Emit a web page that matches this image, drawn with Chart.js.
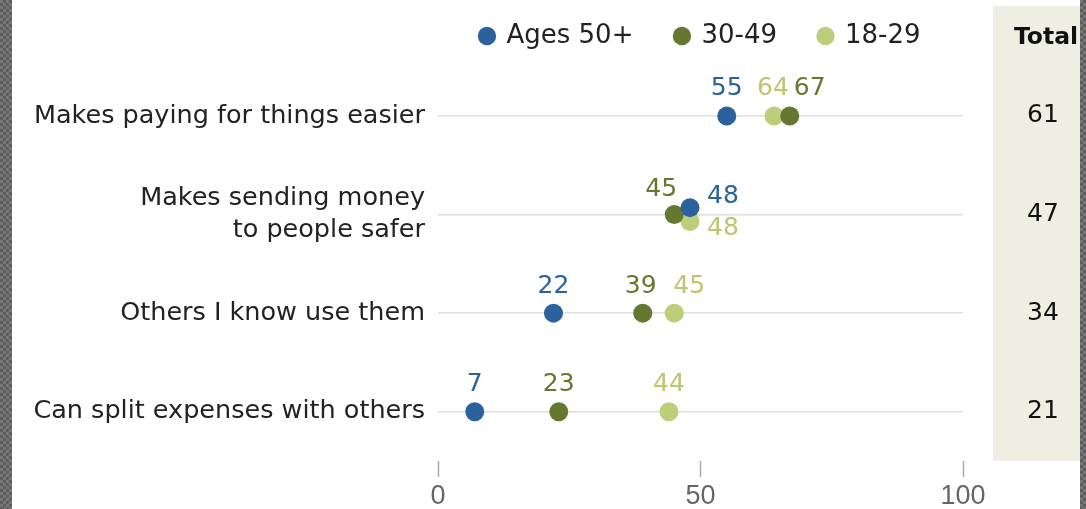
<!DOCTYPE html>
<html>
<head>
<meta charset="utf-8">
<script src="https://cdn.jsdelivr.net/npm/chart.js@4"></script>
<style>
html, body { margin: 0; padding: 0; background: #fff; }
</style>
</head>
<body>
<canvas id="reasonsChart" width="1086" height="509"></canvas>
<script>
//DATA
const reasons = [
    'Makes paying for things easier',
    ['Makes sending money', 'to people safer'],
    'Others I know use them',
    'Can split expenses with others'
];
const seriesNames = ['Ages 50+', '30-49', '18-29'];
const ages50 = [55, 48, 22, 7];
const ages30 = [67, 45, 39, 23];
const ages18 = [64, 48, 45, 44];
const totals = [61, 47, 34, 21];
const xTicks = [0, 50, 100];

//STYLE
const colors = ['#2b619c', '#66772f', '#bdce7b'];
const textColors = ['#2b619c', '#66772f', '#b6c970'];
const font = 'DejaVu Sans';
// small vertical nudge so overlapping dots stay visible (row 2)
const rowNudge = [
    [0, -0.07, 0, 0],
    [0, 0, 0, 0],
    [0, 0.07, 0, 0]
];
// value label placement: [dx, dy, align]
const labelOffsets = [
    [[0, -27, 'center'], [17, -11, 'left'], [0, -27, 'center'], [0, -27, 'center']],
    [[20, -27, 'center'], [-13, -25, 'center'], [-2, -27, 'center'], [0, -27, 'center']],
    [[-1, -27, 'center'], [17, 7, 'left'], [15, -27, 'center'], [0, -27, 'center']]
];
const allValues = [ages50, ages30, ages18];

//plugins
const backdrop = {
    id: 'backdrop',
    beforeDraw(chart) {
        const ctx = chart.ctx;
        const pc = document.createElement('canvas');
        pc.width = 6; pc.height = 6;
        const p = pc.getContext('2d');
        p.fillStyle = '#5e5e5e'; p.fillRect(0, 0, 6, 6);
        p.fillStyle = '#767676'; p.fillRect(0, 0, 3, 3); p.fillRect(3, 3, 3, 3);
        ctx.save();
        ctx.fillStyle = ctx.createPattern(pc, 'repeat');
        ctx.fillRect(0, 0, 12, chart.height);
        ctx.fillRect(1080, 0, 6, chart.height);
        // total panel
        ctx.fillStyle = '#eeeee3';
        ctx.fillRect(993, 6, 87, 455);
        ctx.restore();
    }
};

const valueLabels = {
    id: 'valueLabels',
    afterDatasetsDraw(chart) {
        const ctx = chart.ctx;
        ctx.save();
        ctx.font = '25px "' + font + '"';
        ctx.textBaseline = 'middle';
        chart.data.datasets.forEach((ds, di) => {
            chart.getDatasetMeta(di).data.forEach((pt, i) => {
                const [dx, dy, align] = labelOffsets[di][i];
                ctx.fillStyle = textColors[di];
                ctx.textAlign = align;
                ctx.fillText(String(allValues[di][i]), pt.x + dx, pt.y + dy);
            });
        });
        // total column
        const y = chart.scales.y;
        ctx.fillStyle = '#111';
        ctx.textAlign = 'center';
        ctx.font = 'bold 23.5px "' + font + '"';
        ctx.fillText('Total', 1046, 38);
        ctx.font = '25px "' + font + '"';
        totals.forEach((t, i) => {
            ctx.fillText(String(t), 1043, y.getPixelForValue(i));
        });
        ctx.restore();
    }
};

//config
const makeSet = (i) => ({
    label: seriesNames[i],
    data: allValues[i].map((v, r) => ({ x: v, y: r + rowNudge[i][r] })),
    backgroundColor: colors[i],
    borderColor: colors[i],
    borderWidth: 0,
    pointStyle: 'circle',
    pointRadius: 9.5,
    pointHoverRadius: 9.5,
    order: i + 1
});

const config = {
    type: 'scatter',
    data: { datasets: [makeSet(0), makeSet(1), makeSet(2)] },
    options: {
        responsive: false,
        animation: false,
        layout: { padding: { top: -19, right: 123, left: 0, bottom: 0 } },
        plugins: {
            tooltip: { enabled: false },
            legend: {
                position: 'top',
                fullSize: false,
                labels: {
                    usePointStyle: true,
                    pointStyle: 'circle',
                    boxWidth: 13,
                    boxHeight: 13,
                    padding: 42,
                    color: '#222',
                    font: { family: font, size: 26 }
                }
            }
        },
        scales: {
            x: {
                type: 'linear',
                min: 0,
                max: 100,
                afterBuildTicks: s => { s.ticks = xTicks.map(v => ({ value: v })); },
                afterFit: s => { s.height = 48; },
                ticks: { color: '#666', padding: 3, font: { family: 'Liberation Sans', size: 27 } },
                grid: { drawOnChartArea: false, tickLength: 16, tickColor: '#aaa', tickWidth: 1.5 },
                border: { display: false }
            },
            y: {
                type: 'linear',
                reverse: true,
                min: -0.578,
                max: 3.5,
                afterBuildTicks: s => { s.ticks = reasons.map((r, i) => ({ value: i })); },
                afterFit: s => { s.width = 438; },
                ticks: {
                    callback: v => reasons[v],
                    padding: 13,
                    color: '#222',
                    font: { family: font, size: 25.5, lineHeight: 1.255 }
                },
                grid: { color: '#dddddd', lineWidth: 1.5, drawTicks: false },
                border: { display: false }
            }
        }
    },
    plugins: [backdrop, valueLabels]
};

//render
const reasonsChart = new Chart(
    document.getElementById('reasonsChart').getContext('2d'),
    config
);
</script>
</body>
</html>
